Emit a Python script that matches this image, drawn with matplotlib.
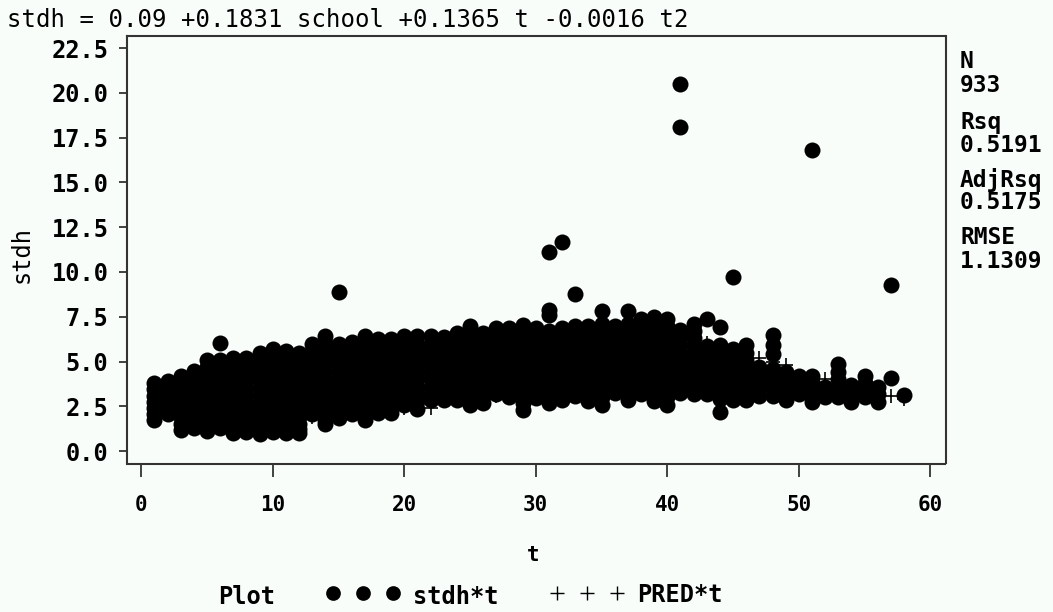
import matplotlib
matplotlib.use("Agg")
import matplotlib.pyplot as plt

W, H = 1053, 612
BG = "#f8fdfa"
MONO = "DejaVu Sans Mono"

stdh_by_t = [
    [3.8, 3.45, 3.1, 2.75, 2.4, 2.05, 1.75],
    [3.9, 3.5, 3.15, 2.8, 2.45, 2.1],
    [4.2, 3.8, 3.4, 3.05, 2.65, 2.3, 1.9, 1.5, 1.17],
    [4.5, 4.1, 3.7, 3.3, 2.9, 2.5, 2.1, 1.7, 1.3],
    [5.1, 4.7, 4.3, 3.9, 3.5, 3.1, 2.7, 2.3, 1.9, 1.5, 1.1],
    [6.03, 5.1, 4.7, 4.3, 3.9, 3.5, 3.1, 2.7, 2.3, 1.9, 1.6, 1.3],
    [5.2, 4.8, 4.4, 4.0, 3.6, 3.2, 2.8, 2.4, 2.0, 1.6, 1.3, 1.0],
    [5.2, 4.8, 4.35, 3.95, 3.55, 3.15, 2.75, 2.35, 1.95, 1.55, 1.05],
    [5.5, 5.1, 4.7, 4.3, 3.9, 3.5, 3.1, 2.7, 2.3, 1.9, 1.5, 1.2, 0.95],
    [5.7, 5.3, 4.9, 4.5, 4.1, 3.7, 3.3, 2.9, 2.5, 2.1, 1.7, 1.4, 1.05],
    [5.6, 5.2, 4.8, 4.4, 4.0, 3.6, 3.2, 2.8, 2.4, 2.0, 1.6, 1.3, 1.0],
    [5.5, 5.1, 4.7, 4.3, 3.9, 3.5, 3.1, 2.7, 2.3, 1.9, 1.5, 1.25, 1.0],
    [6.0, 5.6, 5.2, 4.8, 4.4, 4.0, 3.6, 3.2, 2.8, 2.45, 2.1],
    [6.45, 6.05, 5.65, 5.25, 4.85, 4.45, 4.05, 3.65, 3.25, 2.85, 2.45, 2.05, 1.75, 1.5],
    [8.9, 6.0, 5.6, 5.2, 4.8, 4.4, 4.0, 3.6, 3.2, 2.8, 2.4, 2.1, 1.85],
    [6.1, 5.7, 5.3, 4.9, 4.5, 4.1, 3.7, 3.3, 2.9, 2.5, 2.1],
    [6.4, 6.0, 5.6, 5.2, 4.8, 4.4, 4.0, 3.6, 3.2, 2.8, 2.4, 2.05, 1.75],
    [6.25, 5.85, 5.45, 5.05, 4.65, 4.25, 3.85, 3.45, 3.05, 2.6, 2.15],
    [6.25, 5.85, 5.45, 5.05, 4.65, 4.25, 3.85, 3.45, 3.0, 2.55, 2.15],
    [6.4, 6.0, 5.6, 5.2, 4.8, 4.4, 4.0, 3.6, 3.2, 2.85, 2.55],
    [6.4, 6.0, 5.6, 5.2, 4.8, 4.4, 4.0, 3.6, 3.2, 2.8, 2.35],
    [6.4, 6.0, 5.6, 5.2, 4.8, 4.4, 4.0, 3.6, 3.2, 2.85],
    [6.35, 5.95, 5.55, 5.15, 4.75, 4.35, 3.95, 3.55, 3.2, 2.85],
    [6.6, 6.2, 5.8, 5.4, 5.0, 4.6, 4.2, 3.8, 3.4, 3.1, 2.85],
    [7.0, 6.6, 6.2, 5.8, 5.4, 5.0, 4.6, 4.2, 3.8, 3.4, 3.0, 2.6],
    [6.6, 6.2, 5.8, 5.4, 5.0, 4.6, 4.2, 3.8, 3.4, 3.05, 2.7],
    [6.9, 6.5, 6.1, 5.7, 5.3, 4.9, 4.5, 4.1, 3.75, 3.45, 3.2],
    [6.85, 6.45, 6.05, 5.65, 5.25, 4.85, 4.45, 4.05, 3.65, 3.3, 3.0],
    [7.05, 6.65, 6.25, 5.85, 5.45, 5.05, 4.65, 4.25, 3.85, 3.45, 3.1, 2.7, 2.3],
    [6.85, 6.45, 6.05, 5.65, 5.25, 4.85, 4.45, 4.05, 3.65, 3.3, 2.96],
    [11.1, 7.9, 7.6, 6.7, 6.3, 5.9, 5.5, 5.1, 4.7, 4.3, 3.9, 3.5, 3.1, 2.7],
    [11.7, 6.9, 6.5, 6.1, 5.7, 5.3, 4.9, 4.5, 4.1, 3.7, 3.3, 2.85],
    [8.75, 7.0, 6.6, 6.2, 5.8, 5.4, 5.0, 4.6, 4.2, 3.8, 3.45, 3.1],
    [7.0, 6.6, 6.2, 5.8, 5.4, 5.0, 4.6, 4.2, 3.8, 3.4, 3.1, 2.8],
    [7.8, 7.1, 6.7, 6.3, 5.9, 5.5, 5.1, 4.7, 4.3, 3.9, 3.5, 3.0, 2.57],
    [7.0, 6.6, 6.2, 5.8, 5.4, 5.0, 4.6, 4.2, 3.8, 3.5, 3.25],
    [7.8, 7.1, 6.7, 6.3, 5.9, 5.5, 5.1, 4.7, 4.3, 3.9, 3.5, 3.15, 2.85],
    [7.4, 7.0, 6.6, 6.2, 5.8, 5.4, 5.0, 4.6, 4.2, 3.8, 3.5, 3.2],
    [7.5, 7.1, 6.7, 6.3, 5.9, 5.5, 5.1, 4.7, 4.3, 3.9, 3.5, 3.15, 2.8],
    [7.4, 7.0, 6.6, 6.2, 5.8, 5.4, 5.0, 4.6, 4.2, 3.8, 3.4, 3.0, 2.6],
    [20.5, 18.1, 6.75, 6.35, 5.95, 5.55, 5.15, 4.75, 4.35, 3.95, 3.6, 3.25],
    [7.1, 6.7, 6.3, 5.9, 5.5, 5.1, 4.7, 4.3, 3.9, 3.55, 3.2],
    [7.4, 5.85, 5.4, 5.0, 4.6, 4.2, 3.85, 3.5, 3.2],
    [6.95, 5.95, 5.6, 5.2, 4.8, 4.4, 4.0, 3.6, 3.25, 2.9, 2.2],
    [9.7, 5.7, 5.3, 4.9, 4.5, 4.1, 3.7, 3.3, 2.85],
    [5.9, 5.5, 5.1, 4.7, 4.3, 3.9, 3.5, 3.15, 2.85],
    [4.7, 4.3, 3.9, 3.5, 3.1],
    [6.5, 5.9, 5.4, 4.6, 4.2, 3.8, 3.45, 3.1],
    [4.4, 4.0, 3.6, 3.2, 2.85],
    [4.2, 3.85, 3.5, 3.2],
    [16.8, 4.2, 3.85, 3.5, 3.1, 2.75],
    [3.6, 3.3, 3.0],
    [4.85, 4.4, 4.0, 3.6, 3.3, 3.0],
    [3.7, 3.4, 3.05, 2.75],
    [4.2, 3.8, 3.4, 3.0],
    [3.6, 3.2, 2.75],
    [9.3, 4.08],
    [3.13],
]

# PRED markers that can be seen, most of the rest sit under the dots
pred_t = [1, 5, 10, 13, 15, 20, 22, 25, 27, 30, 35, 40, 43, 44, 47, 48, 49, 52, 57, 58]
pred_v = [2.6, 2.9, 3.3, 1.9, 3.8, 2.4, 2.4, 4.2, 3.1, 4.6, 5.0, 5.2, 6.03, 5.1, 5.2, 5.0, 4.8, 4.0, 3.1, 2.9]

x_ticks = [0, 10, 20, 30, 40, 50, 60]
y_ticks = [0.0, 2.5, 5.0, 7.5, 10.0, 12.5, 15.0, 17.5, 20.0, 22.5]

stats_labels = ["N", "933", "Rsq", "0.5191", "AdjRsq", "0.5175", "RMSE", "1.1309"]
stats_y = [62, 85, 122, 145, 180, 203, 238, 262]

t_vals = []
stdh_vals = []
for i, row in enumerate(stdh_by_t):
    for v in row:
        t_vals.append(i + 1)
        stdh_vals.append(v)

fig = plt.figure(figsize=(W / 100, H / 100), dpi=100, facecolor=BG)
left, right, top, bottom = 126.5, 945.5, 35.5, 463.5
ax = fig.add_axes([left / W, 1 - bottom / H, (right - left) / W, (bottom - top) / H], facecolor=BG)

ax.scatter(t_vals, stdh_vals, s=133, c="black", marker="o", linewidths=0, zorder=3)
ax.scatter(pred_t, pred_v, s=95, c="black", marker="+", linewidths=1.2, zorder=2)

ax.set_xlim(-1.12, 61.15)
ax.set_ylim(-0.69, 23.2)
ax.set_xticks(x_ticks)
ax.set_yticks(y_ticks)
ax.set_xticklabels([str(x) for x in x_ticks], family=MONO, weight="bold", fontsize=15)
ax.set_yticklabels(["%.1f" % y for y in y_ticks], family=MONO, weight="bold", fontsize=17)
ax.tick_params(axis="x", length=9, width=1.2, pad=14, color="#222222")
ax.tick_params(axis="y", length=6, width=1.2, pad=7, color="#222222")
for s in ax.spines.values():
    s.set_linewidth(1.5)
    s.set_color("#333333")


def px_text(x, y, s, **kw):
    fig.text(x / W, 1 - y / H, s, family=MONO, color="black", va="center", **kw)


px_text(7, 20, "stdh = 0.09 +0.1831 school +0.1365 t -0.0016 t2", fontsize=17.3)
px_text(22, 254, "stdh", fontsize=17, rotation=90, ha="center")
px_text(533, 555, "t", fontsize=15, weight="bold", ha="center")

for s, y in zip(stats_labels, stats_y):
    px_text(960, y, s, fontsize=16.5, weight="bold")

# legend row, built by hand like the SAS one
px_text(218, 597, "Plot", fontsize=17, weight="bold")
px_text(413, 597, "stdh*t", fontsize=17, weight="bold")
px_text(637, 595, "PRED*t", fontsize=17, weight="bold")
leg = fig.add_axes([0, 0, 1, 1], facecolor="none")
leg.set_xlim(0, W)
leg.set_ylim(H, 0)
leg.axis("off")
leg.scatter([333, 363, 393], [593, 593, 593], s=112, c="black", linewidths=0)
leg.scatter([557, 587, 617], [593, 593, 593], s=95, c="black", marker="+", linewidths=1.0)

fig.savefig("out.png", dpi=100, facecolor=BG)
